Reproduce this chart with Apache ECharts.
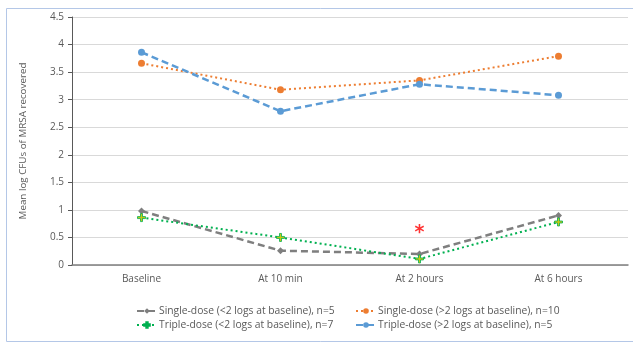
<!DOCTYPE html>
<html>
<head>
<meta charset="utf-8">
<script src="https://cdn.jsdelivr.net/npm/echarts@6/dist/echarts.min.js"></script>
<style>html,body{margin:0;padding:0;background:#fff}#c{width:633px;height:345px}</style>
</head>
<body>
<div id="c"></div>
<script>
var categories = ['Baseline', 'At 10 min', 'At 2 hours', 'At 6 hours'];
var singleLow = [0.98, 0.26, 0.20, 0.90];
var singleHigh = [3.66, 3.18, 3.35, 3.79];
var tripleLow = [0.86, 0.50, 0.11, 0.78];
var tripleHigh = [3.86, 2.79, 3.28, 3.08];
var asterisk = [['At 2 hours', 0.65]];
var names = [
  'Single-dose (<2 logs at baseline), n=5',
  'Single-dose (>2 logs at baseline), n=10',
  'Triple-dose (<2 logs at baseline), n=7',
  'Triple-dose (>2 logs at baseline), n=5'
];

var chart = echarts.init(document.getElementById('c'));
var font = '"Open Sans", "Liberation Sans", sans-serif';
var plusPath = 'path://M3,0H5V3H8V5H5V8H3V5H0V3H3Z';
function legend(name, left, top) {
  return {
    data: [name], left: left, top: top, itemWidth: 20, itemHeight: 7, itemGap: 0,
    textStyle: {fontFamily: font, fontSize: 10.3, color: '#595959', padding: [0, 0, 0, -3]},
    selectedMode: false
  };
}
chart.setOption({
  animation: false,
  textStyle: {fontFamily: font},
  graphic: [{
    type: 'rect', shape: {x: 6.5, y: 8.5, width: 640, height: 333},
    style: {fill: 'none', stroke: '#b4c7e7', lineWidth: 1}, silent: true
  }],
  grid: {left: 72, right: 5, top: 17, bottom: 80},
  legend: [
    legend(names[0], 131, 301),
    legend(names[1], 350, 301),
    legend(names[2], 131, 315),
    legend(names[3], 350, 315)
  ],
  xAxis: {
    type: 'category', data: categories, boundaryGap: true,
    axisLine: {lineStyle: {color: '#7f7f7f', width: 1.5}},
    axisTick: {show: false},
    axisLabel: {color: '#595959', fontSize: 10, margin: 9, fontFamily: font}
  },
  yAxis: {
    type: 'value', min: 0, max: 4.5, interval: 0.5,
    name: 'Mean log CFUs of MRSA recovered', nameLocation: 'middle', nameGap: 44,
    nameTextStyle: {color: '#595959', fontSize: 9.8, fontFamily: font},
    axisLine: {show: true, lineStyle: {color: '#595959'}},
    axisTick: {show: true, length: 4, lineStyle: {color: '#595959'}},
    axisLabel: {color: '#595959', fontSize: 10, margin: 8, fontFamily: font},
    splitLine: {lineStyle: {color: '#d9d9d9'}}
  },
  series: [
    {name: names[0], type: 'line', data: singleLow, symbol: 'diamond', symbolSize: 7,
      itemStyle: {color: '#7f7f7f'}, lineStyle: {color: '#7f7f7f', width: 2.5, type: [7, 4]}},
    {name: names[1], type: 'line', data: singleHigh, symbol: 'circle', symbolSize: 7,
      itemStyle: {color: '#ed7d31'}, lineStyle: {color: '#ed7d31', width: 2, type: [2, 3]}},
    {name: names[2], type: 'line', data: tripleLow, symbol: plusPath, symbolSize: 8,
      itemStyle: {color: '#c8c814', borderColor: '#00b050', borderWidth: 0.8},
      lineStyle: {color: '#00b050', width: 2, type: [2, 3]}},
    {name: names[3], type: 'line', data: tripleHigh, symbol: 'circle', symbolSize: 7,
      itemStyle: {color: '#5b9bd5'}, lineStyle: {color: '#5b9bd5', width: 2.5, type: [7, 4]}},
    {name: 'sig', type: 'scatter', data: asterisk, symbol: 'circle', symbolSize: 2, silent: true,
      itemStyle: {color: 'rgba(0,0,0,0)'},
      label: {show: true, formatter: '*', position: 'inside', color: '#ff0000', fontSize: 19,
        fontWeight: 'bold', fontFamily: '"DejaVu Sans", sans-serif', offset: [0, 4]}}
  ]
});
</script>
</body>
</html>
